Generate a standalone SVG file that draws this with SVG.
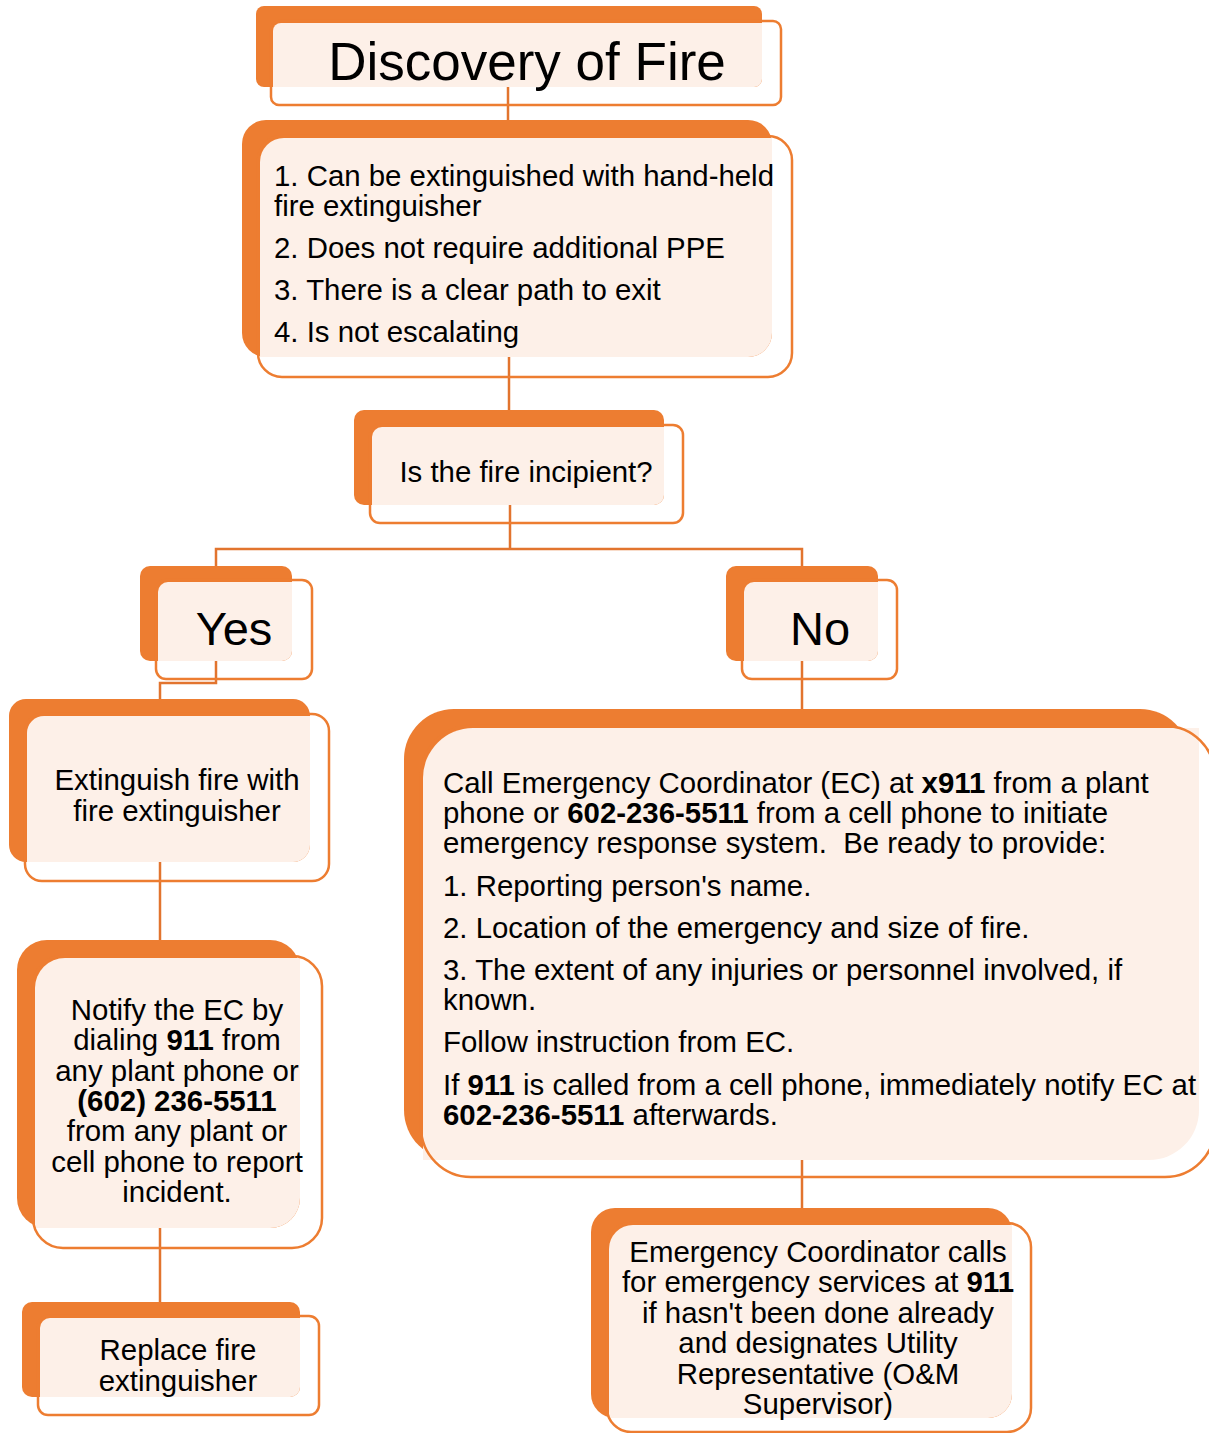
<svg xmlns="http://www.w3.org/2000/svg" width="1209" height="1433" viewBox="0 0 1209 1433">
<style>
.back{fill:#ED7D31}
.face{fill:#FDF0E8}
.edge{fill:none;stroke:#ED7D31;stroke-width:2.5}
.conn{fill:none;stroke:#E2742E;stroke-width:2.5}
text{font-family:"Liberation Sans",Arial,sans-serif;fill:#000}
.t29{font-size:29.4px}
.c{text-anchor:middle}
.b{font-weight:bold}
</style>
<rect width="1209" height="1433" fill="#fff"/>
<g id="connectors">
<path class="conn" d="M508,87 V120"/>
<path class="conn" d="M509,357 V410"/>
<path class="conn" d="M510,505 V549 M216,580 V549 H802 V580"/>
<path class="conn" d="M216,661 V683 H160 V700"/>
<path class="conn" d="M160,862 V940"/>
<path class="conn" d="M160,1228 V1302"/>
<path class="conn" d="M802,661 V709"/>
<path class="conn" d="M802,1160 V1208"/>
</g>
<g id="n-discovery">
<rect class="back" x="256" y="6" width="506" height="81" rx="8"/>
<path class="face" d="M281,23 H762 V79 A8,8 0 0 1 754,87 H273 V31 A8,8 0 0 1 281,23 Z"/>
<rect class="edge" x="271" y="21" width="510" height="84" rx="8"/>
<text class="c" x="527" y="80" font-size="53">Discovery of Fire</text>
</g>
<g id="n-criteria">
<rect class="back" x="242" y="120" width="530" height="237" rx="24"/>
<path class="face" d="M284,138 H772 V333 A24,24 0 0 1 748,357 H260 V162 A24,24 0 0 1 284,138 Z"/>
<rect class="edge" x="258" y="136" width="534" height="241" rx="24"/>
<text class="t29" x="274" y="186">1. Can be extinguished with hand-held</text>
<text class="t29" x="274" y="216">fire extinguisher</text>
<text class="t29" x="274" y="258">2. Does not require additional PPE</text>
<text class="t29" x="274" y="300">3. There is a clear path to exit</text>
<text class="t29" x="274" y="342">4. Is not escalating</text>
</g>
<g id="n-incipient">
<rect class="back" x="354" y="410" width="310" height="95" rx="10"/>
<path class="face" d="M382,427 H664 V495 A10,10 0 0 1 654,505 H372 V437 A10,10 0 0 1 382,427 Z"/>
<rect class="edge" x="370" y="425" width="313" height="98" rx="10"/>
<text class="t29 c" x="526" y="482">Is the fire incipient?</text>
</g>
<g id="n-yes">
<rect class="back" x="140" y="566" width="152" height="95" rx="10"/>
<path class="face" d="M168,582 H292 V651 A10,10 0 0 1 282,661 H158 V592 A10,10 0 0 1 168,582 Z"/>
<rect class="edge" x="156" y="580" width="156" height="99" rx="10"/>
<text class="c" x="234" y="645" font-size="47">Yes</text>
</g>
<g id="n-no">
<rect class="back" x="726" y="566" width="152" height="95" rx="10"/>
<path class="face" d="M754,582 H878 V651 A10,10 0 0 1 868,661 H744 V592 A10,10 0 0 1 754,582 Z"/>
<rect class="edge" x="742" y="580" width="155" height="99" rx="10"/>
<text class="c" x="820" y="645" font-size="47">No</text>
</g>
<g id="n-extinguish">
<rect class="back" x="9" y="699" width="301" height="163" rx="17"/>
<path class="face" d="M44,716 H310 V845 A17,17 0 0 1 293,862 H27 V733 A17,17 0 0 1 44,716 Z"/>
<rect class="edge" x="25" y="714" width="304" height="167" rx="17"/>
<text class="t29 c" x="177" y="790">Extinguish fire with</text>
<text class="t29 c" x="177" y="821">fire extinguisher</text>
</g>
<g id="n-notify">
<rect class="back" x="17" y="940" width="283" height="288" rx="30"/>
<path class="face" d="M65,958 H300 V1198 A30,30 0 0 1 270,1228 H35 V988 A30,30 0 0 1 65,958 Z"/>
<rect class="edge" x="33" y="956" width="289" height="292" rx="30"/>
<text class="t29 c" x="177" y="1020">Notify the EC by</text>
<text class="t29 c" x="177" y="1050">dialing <tspan class="b">911</tspan> from</text>
<text class="t29 c" x="177" y="1081">any plant phone or</text>
<text class="t29 c b" x="177" y="1111">(602) 236-5511</text>
<text class="t29 c" x="177" y="1141">from any plant or</text>
<text class="t29 c" x="177" y="1172">cell phone to report</text>
<text class="t29 c" x="177" y="1202">incident.</text>
</g>
<g id="n-replace">
<rect class="back" x="22" y="1302" width="278" height="95" rx="10"/>
<path class="face" d="M50,1318 H300 V1387 A10,10 0 0 1 290,1397 H40 V1328 A10,10 0 0 1 50,1318 Z"/>
<rect class="edge" x="38" y="1316" width="281" height="99" rx="10"/>
<text class="t29 c" x="178" y="1360">Replace fire</text>
<text class="t29 c" x="178" y="1391">extinguisher</text>
</g>
<g id="n-call">
<rect class="back" x="404" y="709" width="786" height="451" rx="50"/>
<path class="face" d="M473,728 H1199 V1110 A50,50 0 0 1 1149,1160 H423 V778 A50,50 0 0 1 473,728 Z"/>
<rect class="edge" x="421" y="726" width="794" height="451" rx="50"/>
<text class="t29" x="443" y="793">Call Emergency Coordinator (EC) at <tspan class="b">x911</tspan> from a plant</text>
<text class="t29" x="443" y="823">phone or <tspan class="b">602-236-5511</tspan> from a cell phone to initiate</text>
<text class="t29" x="443" y="853" xml:space="preserve">emergency response system.  Be ready to provide:</text>
<text class="t29" x="443" y="896">1. Reporting person's name.</text>
<text class="t29" x="443" y="938">2. Location of the emergency and size of fire.</text>
<text class="t29" x="443" y="980">3. The extent of any injuries or personnel involved, if</text>
<text class="t29" x="443" y="1010">known.</text>
<text class="t29" x="443" y="1052">Follow instruction from EC.</text>
<text class="t29" x="443" y="1095">If <tspan class="b">911</tspan> is called from a cell phone, immediately notify EC at</text>
<text class="t29" x="443" y="1125"><tspan class="b">602-236-5511</tspan> afterwards.</text>
</g>
<g id="n-ec">
<rect class="back" x="591" y="1208" width="421" height="210" rx="24"/>
<path class="face" d="M633,1225 H1012 V1394 A24,24 0 0 1 988,1418 H609 V1249 A24,24 0 0 1 633,1225 Z"/>
<rect class="edge" x="607" y="1223" width="424" height="209" rx="24"/>
<text class="t29 c" x="818" y="1262">Emergency Coordinator calls</text>
<text class="t29 c" x="818" y="1292">for emergency services at <tspan class="b">911</tspan></text>
<text class="t29 c" x="818" y="1323">if hasn't been done already</text>
<text class="t29 c" x="818" y="1353">and designates Utility</text>
<text class="t29 c" x="818" y="1384">Representative (O&amp;M</text>
<text class="t29 c" x="818" y="1414">Supervisor)</text>
</g>
</svg>
